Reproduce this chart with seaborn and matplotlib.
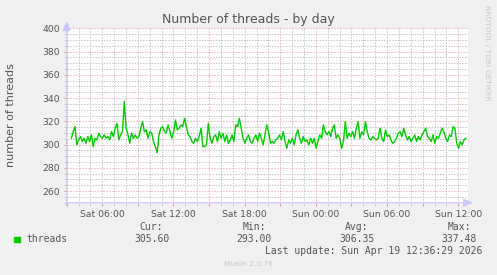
import numpy as np
import pandas as pd
import matplotlib
matplotlib.use("Agg")
import matplotlib.pyplot as plt
from matplotlib.ticker import MultipleLocator, FixedLocator
import seaborn as sns

# ---------------- data ----------------
threads = [
    305.4, 311.1, 315.4, 299.7, 304.0, 306.9, 302.6, 305.4, 301.1, 306.9, 302.6, 308.3,
    298.3, 305.4, 304.0, 309.7, 306.9, 305.4, 308.3, 305.4, 306.9, 304.0, 311.1, 306.9,
    314.0, 318.3, 304.0, 308.3, 311.1, 337.48, 314.0, 308.3, 301.1, 309.7, 305.4, 308.3,
    305.4, 306.9, 314.0, 319.7, 311.1, 312.6, 305.4, 311.1, 309.7, 302.6, 298.3, 293.0,
    308.3, 314.0, 315.4, 311.1, 309.7, 316.9, 311.1, 305.4, 311.1, 321.1, 312.6, 314.0,
    316.9, 315.4, 322.6, 315.4, 308.3, 306.9, 302.6, 301.1, 305.4, 302.6, 306.9, 314.0, 298.3,
    298.3, 299.7, 318.3, 305.4, 301.1, 306.9, 308.3, 302.6, 311.1, 305.4, 309.7, 302.6,
    308.3, 301.1, 304.0, 308.3, 302.6, 316.9, 315.4, 322.6, 314.0, 305.4, 301.1, 305.4,
    308.3, 302.6, 301.1, 305.4, 308.3, 302.6, 309.7, 305.4, 299.7, 308.3, 316.9, 311.1, 301.1,
    302.6, 301.1, 304.0, 305.4, 308.3, 304.0, 311.1, 302.6, 296.9, 304.0, 301.1, 305.4,
    299.7, 308.3, 312.6, 305.4, 301.1, 306.9, 302.6, 304.0, 299.7, 305.4, 301.1, 305.4,
    296.9, 302.6, 308.3, 305.4, 316.9, 311.1, 308.3, 311.1, 306.9, 314.0, 316.9, 305.4,
    308.3, 305.4, 296.9, 302.6, 319.7, 305.4, 309.7, 306.9, 311.1, 305.4, 314.0, 319.7,
    305.4, 311.1, 308.3, 319.7, 311.1, 305.4, 304.0, 306.9, 305.4, 304.0, 305.4, 314.0,
    305.4, 302.6, 312.6, 306.9, 308.3, 304.0, 301.1, 302.6, 305.4, 309.7, 311.1, 306.9, 314.0,
    308.3, 304.0, 306.9, 302.6, 305.4, 308.3, 302.6, 306.9, 304.0, 308.3, 311.1, 314.0,
    306.9, 305.4, 302.6, 308.3, 301.1, 306.9, 305.4, 309.7, 314.0, 311.1, 305.4, 302.6,
    308.3, 306.9, 315.4, 314.0, 301.1, 296.9, 302.6, 299.7, 304.0, 305.6,
]
first_hour = 3.39     # hours after Sat 00:00 of the first sample
last_hour = 36.64     # hours after Sat 00:00 of the last sample
tick_hours = [6, 12, 18, 24, 30, 36]
tick_labels = ["Sat 06:00", "Sat 12:00", "Sat 18:00", "Sun 00:00", "Sun 06:00", "Sun 12:00"]
y_ticks = [260, 280, 300, 320, 340, 360, 380, 400]
stats_names = ["Cur:", "Min:", "Avg:", "Max:"]
stats_values = ["305.60", "293.00", "306.35", "337.48"]
series_name = "threads"
title = "Number of threads - by day"
ylabel = "number of threads"
last_update = "Last update: Sun Apr 19 12:36:29 2026"

df = pd.DataFrame({
    "hour": np.linspace(first_hour, last_hour, len(threads)),
    "threads": threads,
})

# ---------------- style ----------------
sns.set_theme(style="white")
plt.rcParams["font.family"] = ["DejaVu Sans"]
BG = "#f0f0f0"
TXT = "#555555"
AXC = "#c8c8f8"
MINOR = "#c4c4c4"
MAJOR = "#e49494"

W, H = 497, 275
fig = plt.figure(figsize=(W / 100, H / 100), dpi=100, facecolor=BG)
L, R, T, B = 66.7, 468.0, 28.3, 202.7
ax = fig.add_axes([L / W, 1 - B / H, (R - L) / W, (B - T) / H])
ax.set_facecolor("white")

ax.set_xlim(3.37, 36.82)
ax.set_ylim(250, 400)

# grids
ax.xaxis.set_minor_locator(MultipleLocator(1))
ax.yaxis.set_minor_locator(MultipleLocator(5))
ax.grid(which="minor", color=MINOR, lw=0.72, linestyle=(0, (1.4, 1.4)))
ax.grid(which="major", color=MAJOR, lw=0.72, linestyle=(0, (1, 2)))
ax.set_axisbelow(True)

sns.lineplot(data=df, x="hour", y="threads", color="#00cc00", lw=1.0, ax=ax,
             legend=False, zorder=3)

# tick labels
major_x = np.arange(3, 37, 3)
ax.set_xticks(major_x)
ax.set_xticklabels([tick_labels[tick_hours.index(int(h))] if int(h) in tick_hours else ""
                    for h in major_x])
ax.set_yticks(y_ticks)
ax.set_yticklabels([str(v) for v in y_ticks])
ax.tick_params(axis="both", which="major", labelsize=6.7, labelcolor=TXT,
               length=2.5, width=0.7, color=MAJOR, pad=2.5, direction="out")
ax.tick_params(axis="both", which="minor", length=2, width=0.6, color=MINOR, direction="out")
ax.tick_params(axis="x", which="both", bottom=True)
ax.tick_params(axis="y", which="both", left=True)
ax.set_xlabel("")
ax.set_ylabel("")
for s in ax.spines.values():
    s.set_visible(False)

# axis lines with arrows
ax.annotate("", xy=(1.012, 0), xytext=(0, 0), xycoords="axes fraction",
            arrowprops=dict(arrowstyle="-|>,head_length=0.45,head_width=0.2",
                            color=AXC, lw=0.9, shrinkA=0, shrinkB=0), annotation_clip=False)
ax.annotate("", xy=(0, 1.04), xytext=(0, -0.015), xycoords="axes fraction",
            arrowprops=dict(arrowstyle="-|>,head_length=0.45,head_width=0.2",
                            color=AXC, lw=0.9, shrinkA=0, shrinkB=0), annotation_clip=False)

# texts
def fx(px):
    return px / W

def fy(py):
    return 1 - py / H

fig.text(0.5, fy(19), title, ha="center", va="center", fontsize=9, color=TXT)
fig.text(fx(11), fy(115.5), ylabel, rotation=90, ha="center", va="center",
         fontsize=8, color=TXT)
fig.text(fx(487.3), fy(5), "RRDTOOL / TOBI OETIKER", rotation=270, ha="center", va="top",
         fontsize=5.4, color="#c8c8c8")

mono = "DejaVu Sans Mono"
fig.patches.append(plt.Rectangle((fx(14), fy(242)), 5.5 / W, 5.5 / H,
                                 transform=fig.transFigure, color="#00cc00", figure=fig))
fig.text(fx(26.5), fy(239.3), series_name, ha="left", va="center", fontsize=7,
         family=mono, color=TXT)
name_right = [163.3, 266.5, 368.3, 470.7]
val_right = [170.0, 271.7, 374.3, 476.7]
for n, v, xr, xv in zip(stats_names, stats_values, name_right, val_right):
    fig.text(fx(xr), fy(227.5), n, ha="right", va="center", fontsize=7, family=mono, color=TXT)
    fig.text(fx(xv), fy(239.3), v, ha="right", va="center", fontsize=7, family=mono, color=TXT)
fig.text(fx(482.3), fy(250.7), last_update, ha="right", va="center", fontsize=7,
         family=mono, color=TXT)
fig.text(0.5, fy(264.3), "Munin 2.0.76", ha="center", va="center", fontsize=5.4,
         color="#c8c8c8")

fig.savefig("out.png", dpi=100, facecolor=BG)
